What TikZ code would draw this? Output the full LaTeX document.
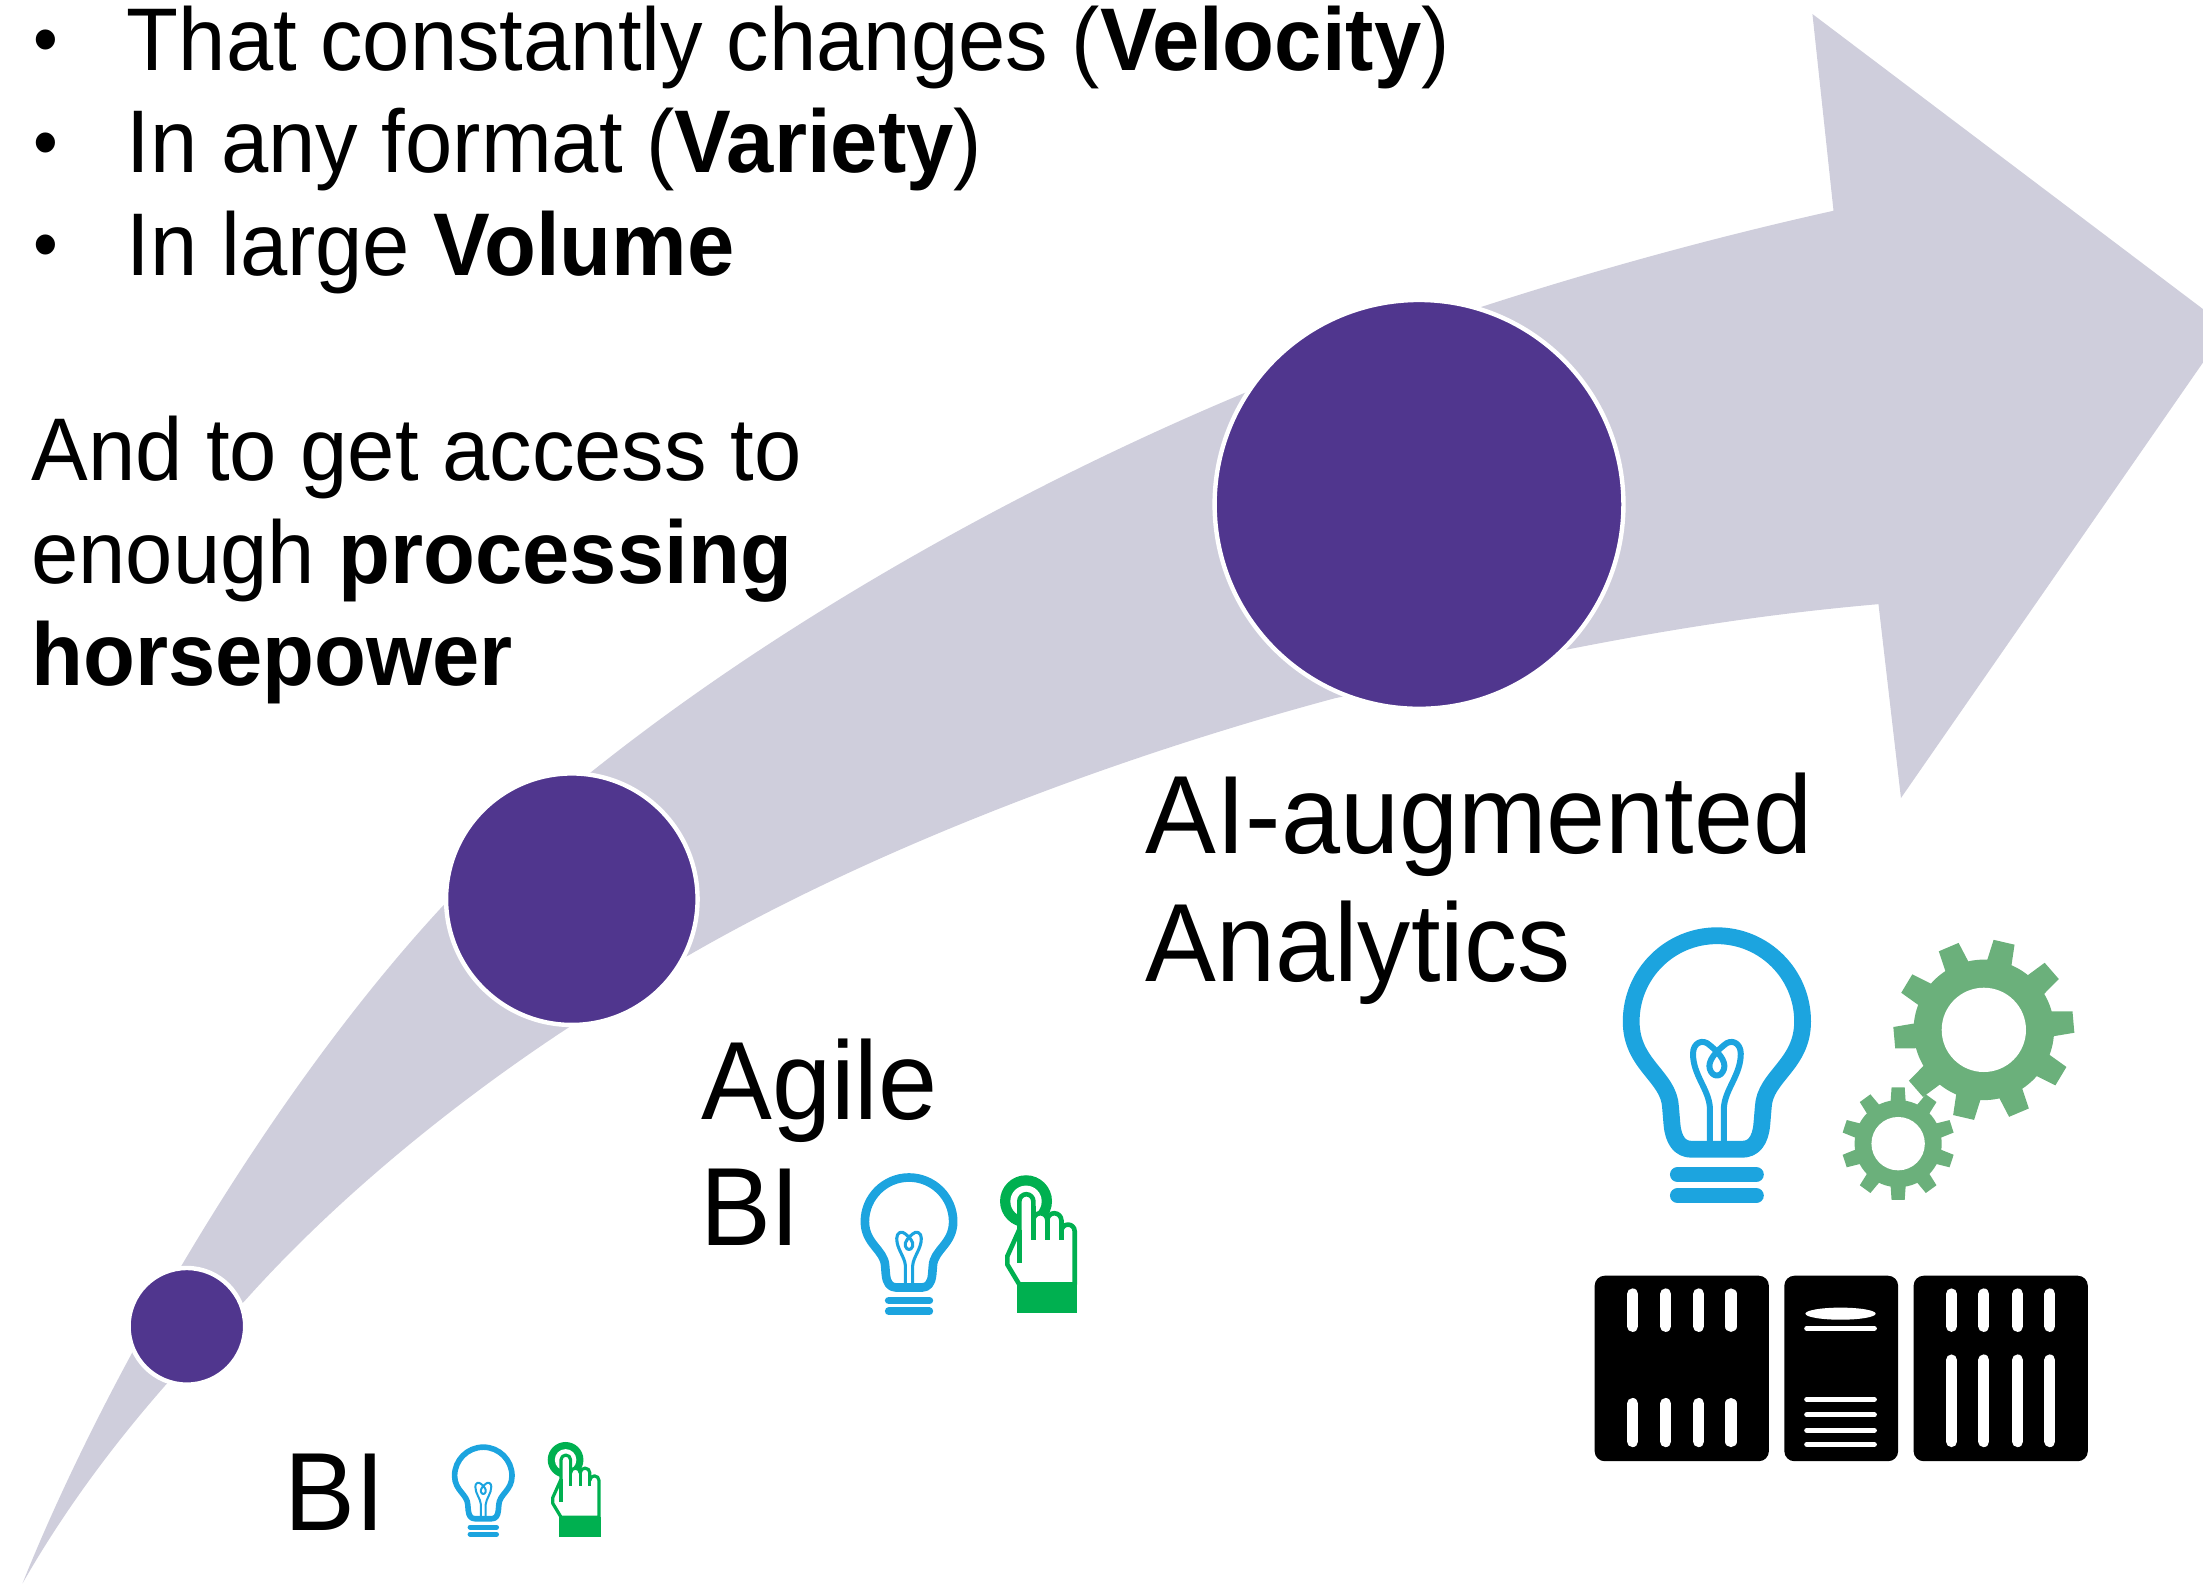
\documentclass[tikz,border=0pt]{standalone}
\usepackage{fontspec}
\setmainfont[FakeStretch=0.955]{Liberation Sans}
\definecolor{arrowgrey}{HTML}{CFCEDC}
\definecolor{stagepurple}{HTML}{50368E}
\definecolor{bulbblue}{HTML}{1CA4DF}
\definecolor{geargreen}{HTML}{6BB07B}
\definecolor{handgreen}{HTML}{00B050}
\tikzset{
  bodytext/.style={inner sep=0pt,anchor=base west,font=\fontsize{44.5}{50}\selectfont},
  bullettext/.style={inner sep=0pt,anchor=base,font=\fontsize{37}{42}\selectfont},
  stagetext/.style={inner sep=0pt,anchor=base west,font=\fontsize{55.6}{62}\selectfont},
  stagedot/.style={fill=stagepurple,draw=white,line width=2.2pt},
  slot/.style={white,line cap=round,line width=5.6pt},
  rail/.style={white,line cap=round,line width=2.6pt},
}
\newcommand{\bulbicon}[3]{%
  \begin{scope}[shift={(#1,#2)},scale=#3,bulbblue,line join=round]
    \draw[line width=#3*8.4pt] (-61,67) arc (180:360:61)
      .. controls (61,98) and (34,106) .. (33,128) -- (32,140)
      .. controls (31,152) and (26,158) .. (18,158) -- (-18,158)
      .. controls (-26,158) and (-31,152) .. (-32,140) -- (-33,128)
      .. controls (-34,106) and (-61,98) .. (-61,67) -- cycle;
    \draw[line width=#3*3pt] (-5,154) -- (-5,128)
      .. controls (-6,115) and (-17,105) .. (-17,90)
      .. controls (-17,82) and (-10,79) .. (-5,84)
      .. controls (0,88) and (7,95) .. (5,101)
      .. controls (3,107) and (-3,107) .. (-5,101)
      .. controls (-7,95) and (0,88) .. (5,84)
      .. controls (10,79) and (17,82) .. (17,90)
      .. controls (17,105) and (6,115) .. (5,128) -- (5,154);
    \draw[line width=#3*7.6pt,line cap=round] (-28,176) -- (28,176);
    \draw[line width=#3*7.6pt,line cap=round] (-28,191) -- (28,191);
  \end{scope}}
\newcommand{\handicon}[3]{%
  \begin{scope}[shift={(#1,#2)},scale=#3,shift={(-483,-75)},handgreen,line join=round]
    \fill (560,155) circle (78);
    \fill[white] (560,155) circle (47);
    \filldraw[fill=white,line width=#3*9.8pt] (540,240) -- (540,155) arc (180:360:21)
      -- (582,212) arc (180:360:21) arc (180:360:21)
      -- (666,245) arc (180:360:20) -- (706,405) -- (540,405)
      -- (504,345) -- (504,320) -- cycle;
    \draw[line width=#3*9.8pt] (540,240) -- (540,340);
    \draw[line width=#3*9.8pt] (582,170) -- (582,270);
    \draw[line width=#3*9.8pt] (624,212) -- (624,270);
    \draw[line width=#3*9.8pt] (666,212) -- (666,270);
    \fill (532,405) rectangle (713,490);
  \end{scope}}
\newcommand{\gearicon}[7]{% cx cy outer root hole halfwidth start angle
  \begin{scope}[shift={(#1,#2)},geargreen]
    \foreach \toothangle in {0,36,...,324} {
      \fill[rotate=#7+\toothangle] (#4-3,-#6) -- (#3,-0.85*#6) -- (#3,0.85*#6) -- (#4-3,#6) -- cycle;
    }
    \fill (0,0) circle (#4);
    \fill[white] (0,0) circle (#5);
  \end{scope}}
\begin{document}
\begin{tikzpicture}[x=0.7025pt,y=-0.7025pt]
\useasboundingbox (0,0) rectangle (1568,1127.4);
% arrow
\fill[arrowgrey] (16,1127) .. controls (75,980) and (190,780) .. (315,645)
  .. controls (450,505) and (670,370) .. (885,280)
  .. controls (1020,225) and (1170,180) .. (1305,150)
  -- (1290,10) -- (1568,220) -- (1568,258) -- (1353,568) -- (1337,430)
  .. controls (1200,442) and (1100,465) .. (950,497)
  .. controls (790,540) and (620,605) .. (490,680)
  .. controls (380,740) and (260,830) .. (175,925)
  .. controls (115,985) and (60,1050) .. (16,1127) -- cycle;
% stage dots
\node[stagedot,circle,minimum size=2*145.5*0.7025pt,inner sep=0pt] (big) at (1010,359) {};
\node[stagedot,circle,minimum size=2*89.5*0.7025pt,inner sep=0pt] (mid) at (407,640) {};
\node[stagedot,circle,minimum size=2*41.5*0.7025pt,inner sep=0pt] (small) at (133,944) {};
% bullet text
\node[bullettext] (b1) at (33,46) {•};
\node[bullettext] (b2) at (33,119) {•};
\node[bullettext] (b3) at (33,192) {•};
\node[bodytext] (t1) at (90,50) {That constantly changes (\textbf{Velocity})};
\node[bodytext] (t2) at (90,123) {In any format (\textbf{Variety})};
\node[bodytext] (t3) at (90,196) {In large \textbf{Volume}};
\node[bodytext] (t4) at (22,342) {And to get access to};
\node[bodytext] (t5) at (22,415) {enough \textbf{processing}};
\node[bodytext] (t6) at (22,488) {\textbf{horsepower}};
% stage labels
\node[stagetext] (ai1) at (815,607.5) {AI-augmented};
\node[stagetext] (ai2) at (815,698.5) {Analytics};
\node[stagetext] (ag1) at (499,796.5) {Agile};
\node[stagetext] (ag2) at (498,886.5) {BI};
\node[stagetext] (bi) at (202,1089.5) {BI};
% icons
\bulbicon{1222}{660}{1}
\bulbicon{647}{835}{0.515}
\bulbicon{344}{1028}{0.335}
\handicon{712}{836}{0.2372}
\handicon{390}{1026}{0.163}
\gearicon{1412}{733}{64}{50}{30}{9}{5}
\gearicon{1351}{814}{40}{31}{19}{5.5}{18}
% servers
\fill[rounded corners=5] (1135,908) rectangle (1259,1040);
\fill[rounded corners=5] (1270,908) rectangle (1351,1040);
\fill[rounded corners=5] (1362,908) rectangle (1486,1040);
\foreach \sx in {1162,1185.5,1209,1232} {
  \draw[slot] (\sx,921) -- (\sx,944);
  \draw[slot] (\sx,999) -- (\sx,1026);
}
\foreach \sx in {1389,1412,1436,1459} {
  \draw[slot] (\sx,921) -- (\sx,944);
  \draw[slot] (\sx,968) -- (\sx,1026);
}
\fill[white] (1310,935) ellipse (25 and 4.3);
\foreach \sy in {945.5,996,1007,1018,1028} {
  \draw[rail] (1286,\sy) -- (1334,\sy);
}
\end{tikzpicture}
\end{document}
